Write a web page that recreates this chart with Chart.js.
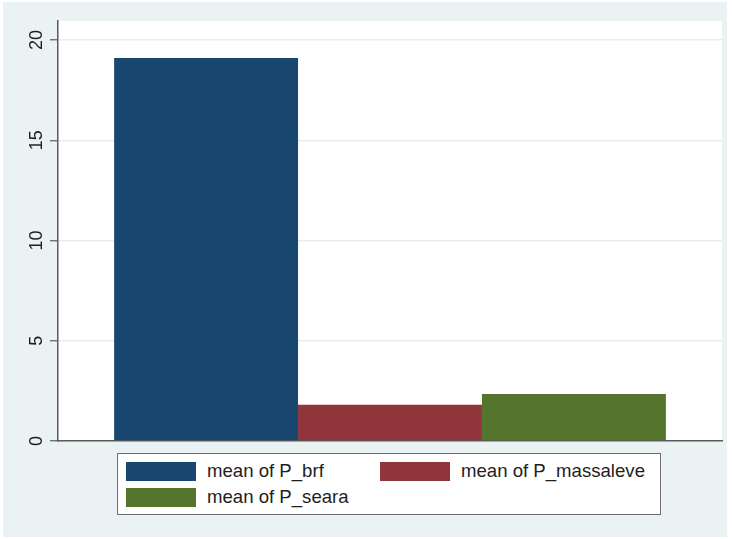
<!DOCTYPE html>
<html>
<head>
<meta charset="utf-8">
<script src="https://cdn.jsdelivr.net/npm/chart.js@4/dist/chart.umd.min.js"></script>
<style>
  html, body { margin: 0; padding: 0; background: #ffffff; }
  #wrap { position: relative; width: 732px; height: 539px; overflow: hidden; }
  #bg { position: absolute; left: 3px; top: 2px; width: 724px; height: 535px; background: #eaf2f3; }
  #c { position: absolute; left: 0; top: 0; }
  #legend { position: absolute; left: 117px; top: 453px; width: 542px; height: 60px; background: #ffffff;
            border: 1px solid #6e6e6e; font-family: "Liberation Sans", Arial, sans-serif; font-size: 18.6px; color: #1e1e1e; }
  .item { position: absolute; height: 19px; }
  .sw { position: absolute; left: 0; top: 0; width: 70px; height: 19px; }
  .lbl { position: absolute; left: 81px; top: -2px; white-space: nowrap; line-height: 22px; }
</style>
</head>
<body>
<div id="wrap">
  <div id="bg"></div>
  <canvas id="c" width="732" height="539"></canvas>
  <div id="legend"></div>
</div>
<script>
// ---- data ----
const categories = [''];
const seriesLabels = ['mean of P_brf', 'mean of P_massaleve', 'mean of P_seara'];
const seriesValues = [19.1, 1.81, 2.34];
const yTickValues = [0, 5, 10, 15, 20];

// ---- styles ----
const seriesColors = ['#1a476f', '#90353b', '#55752f'];
const legendPos = [[8, 8], [262, 8], [8, 34]];

const datasets = seriesLabels.map((lab, i) => ({
  label: lab,
  data: [seriesValues[i]],
  backgroundColor: seriesColors[i],
  borderWidth: 0,
  categoryPercentage: 0.831,
  barPercentage: 1.0
}));

const plotBg = {
  id: 'plotBg',
  beforeDraw(chart) {
    const { ctx, chartArea: a } = chart;
    ctx.save();
    ctx.fillStyle = '#ffffff';
    ctx.fillRect(a.left, a.top, a.right - a.left, a.bottom - a.top);
    ctx.restore();
  }
};

new Chart(document.getElementById('c'), {
  type: 'bar',
  data: { labels: categories, datasets },
  options: {
    responsive: false,
    animation: false,
    layout: { padding: { top: 21, right: 10, bottom: 98, left: 0 } },
    plugins: { legend: { display: false }, tooltip: { enabled: false } },
    scales: {
      x: {
        ticks: { display: false },
        grid: { display: false },
        border: { display: true, color: '#5a5a5a', width: 1.5 },
        afterFit(s) { s.height = 0; }
      },
      y: {
        min: 0,
        max: 20.95,
        afterBuildTicks(s) { s.ticks = yTickValues.map(v => ({ value: v })); },
        afterFit(s) { s.width = 58; },
        ticks: {
          minRotation: 90,
          maxRotation: 90,
          crossAlign: 'center',
          padding: 3,
          color: '#1e1e1e',
          font: { family: '"Liberation Sans", Arial, sans-serif', size: 18 }
        },
        grid: {
          color: (c) => (c.tick && c.tick.value === 0) ? 'rgba(0,0,0,0)' : '#e4eef0',
          lineWidth: 1.5,
          tickLength: 8,
          tickColor: '#5a5a5a',
          tickWidth: 1.2
        },
        border: { display: true, color: '#5a5a5a', width: 1.5 }
      }
    }
  },
  plugins: [plotBg]
});

// HTML legend built from the data arrays
const lg = document.getElementById('legend');
seriesLabels.forEach((lab, i) => {
  const it = document.createElement('div');
  it.className = 'item';
  it.style.left = legendPos[i][0] + 'px';
  it.style.top = legendPos[i][1] + 'px';
  const sw = document.createElement('div');
  sw.className = 'sw';
  sw.style.background = seriesColors[i];
  const tx = document.createElement('div');
  tx.className = 'lbl';
  tx.textContent = lab;
  it.appendChild(sw); it.appendChild(tx);
  lg.appendChild(it);
});
</script>
</body>
</html>
